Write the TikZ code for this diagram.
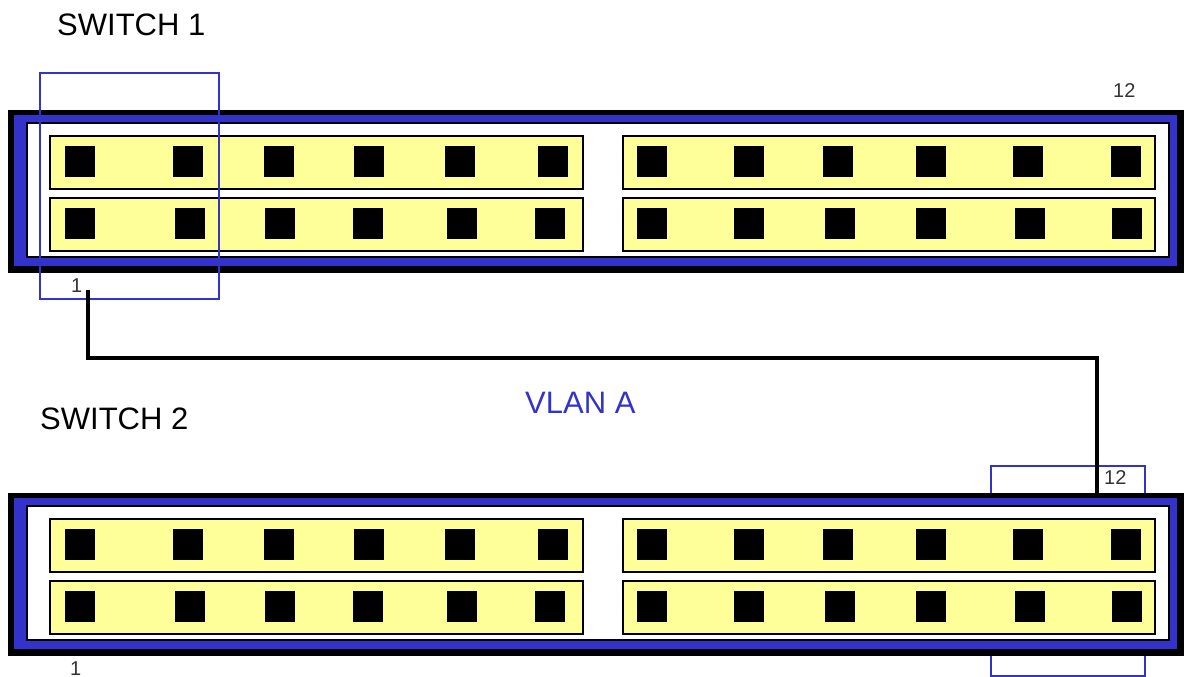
\documentclass[tikz,border=0pt]{standalone}
\usepackage{fontspec}
\setmainfont{Liberation Sans}
\definecolor{swblue}{RGB}{51,51,204}
\definecolor{portyellow}{RGB}{255,255,153}
\tikzset{
  sw label/.style={font=\fontsize{31}{36}\selectfont, inner sep=0pt, anchor=base west},
  port num/.style={font=\fontsize{20}{24}\selectfont, text=black!80, inner sep=0pt, anchor=base west},
  strip/.style={fill=portyellow, draw=black, line width=1.2pt},
  vlan box/.style={draw=swblue, line width=1.5pt}
}

\begin{document}
\begin{tikzpicture}[x=1pt,y=-1pt]
\useasboundingbox (0,0) rectangle (1184,677);
% box of switch 2 lies behind the switch
\draw[vlan box] (991,466) rectangle (1145,676);
% the two switches
\foreach \dy in {0,383}{
\begin{scope}[yshift=-\dy pt]
\fill[black] (8,110) rectangle (1184,273);
\fill[swblue] (14,115) rectangle (1177,266);
\draw[fill=white, line width=1.2pt] (27,123) rectangle (1169,257);
\draw[strip] (50,136) rectangle (583,189);
\draw[strip] (50,198) rectangle (583,251);
\draw[strip] (623,136) rectangle (1155,189);
\draw[strip] (623,198) rectangle (1155,251);
\foreach \x in {80,188,279,369,460,553,652,749,838,931,1028,1126}{\fill ({\x-15},146) rectangle ({\x+15},177);}
\foreach \x in {80,190,280,368,462,550,652,749,840,931,1030,1127}{\fill ({\x-15},208) rectangle ({\x+15},239);}
\end{scope}}
\draw[vlan box] (40,73) rectangle (219,299);
\node[sw label] (sw1) at (57,36) {SWITCH 1};
\node[sw label] (sw2) at (40,429) {SWITCH 2};
\node[sw label, text=swblue] (vlan) at (525,413) {VLAN A};
\node[port num] (s1n12) at (1113,97) {12};
\node[port num] (s1n1) at (71,292) {1};
\node[port num] (s2n12) at (1104,484) {12};
\node[port num] (s2n1) at (70,675) {1};
%\draw[line width=4pt] (88,290) -- (88,358) -- (1097,358) -- (1097,493);
\coordinate (s1p1) at (88,290);
\coordinate (s2p12) at (1097,493);
\draw[line width=4pt] (s1p1) -- ++(0,68) -| (s2p12);

\end{tikzpicture}
\end{document}
